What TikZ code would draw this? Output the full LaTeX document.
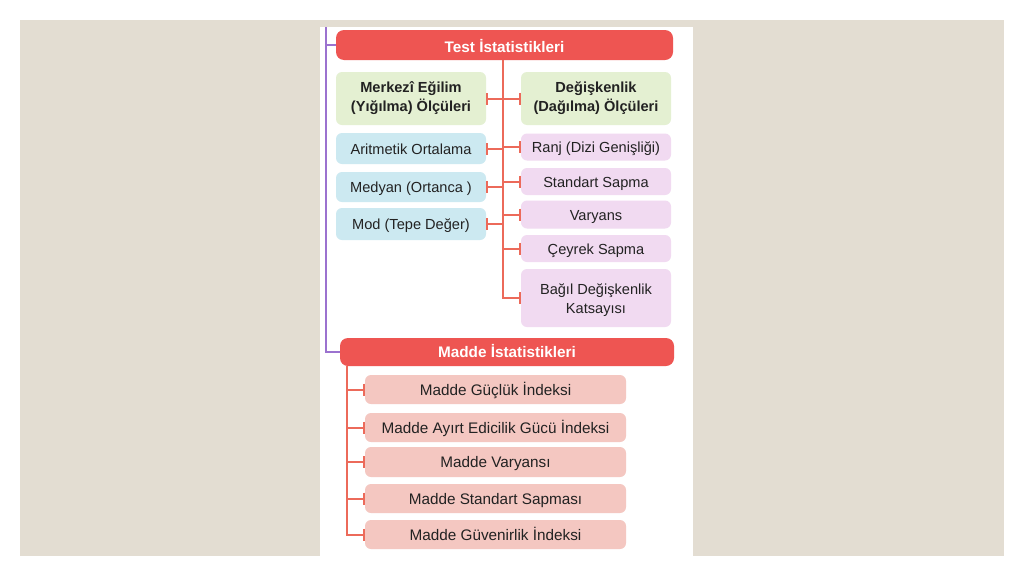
\documentclass[tikz,border=0pt]{standalone}
\usepackage{fontspec}
\setmainfont{Liberation Sans}
\usetikzlibrary{arrows.meta}
\definecolor{pagebg}{HTML}{E3DDD2}
\definecolor{hdrred}{HTML}{EE5552}
\definecolor{boxgreen}{HTML}{E4F0D2}
\definecolor{boxblue}{HTML}{CCE9F1}
\definecolor{boxlav}{HTML}{F1DAF1}
\definecolor{boxsalmon}{HTML}{F4C7C1}
\definecolor{linepurple}{HTML}{9B72CF}
\definecolor{lineorange}{HTML}{EC6A5A}
\definecolor{txt}{HTML}{222222}
\begin{document}
\begin{tikzpicture}[x=1pt,y=-1pt,
  box/.style={rounded corners=6pt, inner sep=0pt, align=center, text=txt,
    font=\fontsize{14.6}{19}\selectfont},
  one/.style={text height=11.5pt, text depth=0pt},
  mbox/.style={box, one, fill=boxsalmon, minimum width=261pt, font=\fontsize{15.3}{19}\selectfont},
  hdr/.style={box, one, fill=hdrred, rounded corners=8pt, text=white,
    font=\fontsize{15.3}{19}\selectfont\bfseries},
  conn/.style={draw=lineorange, line width=2pt},
  bar/.style={-{Bar[width=12pt,line width=2pt]}},
  bars/.style={{Bar[width=12pt,line width=2pt]}-{Bar[width=12pt,line width=2pt]}},
  pconn/.style={draw=linepurple, line width=2pt}
]
\useasboundingbox (0,0) rectangle (1024,576);
\fill[white] (0,0) rectangle (1024,576);
\fill[pagebg] (20,20) rectangle (1004,556);
\fill[white] (320,27) rectangle (693,556);

% headers
\node[hdr, minimum width=337pt, minimum height=30pt, text height=14pt] (test) at (504.5,45) {Test İstatistikleri};
\node[hdr, minimum width=334pt, minimum height=28pt] (madde) at (507,352) {Madde İstatistikleri};

% left column
\node[box, fill=boxgreen, minimum width=150pt, minimum height=53pt, font=\fontsize{14.6}{19}\selectfont\bfseries] (merk) at (411,98.5) {Merkezî Eğilim\\(Yığılma) Ölçüleri};
\node[box, one, fill=boxblue, minimum width=150pt, minimum height=31pt] (arit) at (411,148.5) {Aritmetik Ortalama};
\node[box, one, fill=boxblue, minimum width=150pt, minimum height=30pt] (medy) at (411,187) {Medyan (Ortanca )};
\node[box, one, fill=boxblue, minimum width=150pt, minimum height=32pt] (mod) at (411,224) {Mod (Tepe Değer)};

% right column
\node[box, fill=boxgreen, minimum width=150pt, minimum height=53pt, font=\fontsize{14.6}{19}\selectfont\bfseries] (degi) at (596,98.5) {Değişkenlik\\(Dağılma) Ölçüleri};
\node[box, one, fill=boxlav, minimum width=150pt, minimum height=27pt] (ranj) at (596,147) {Ranj (Dizi Genişliği)};
\node[box, one, fill=boxlav, minimum width=150pt, minimum height=27pt] (std) at (596,181.5) {Standart Sapma};
\node[box, one, fill=boxlav, minimum width=150pt, minimum height=28pt, text height=12.5pt] (var) at (596,214.5) {Varyans};
\node[box, one, fill=boxlav, minimum width=150pt, minimum height=27pt, text height=12.5pt] (ceyr) at (596,248.5) {Çeyrek Sapma};
\node[box, fill=boxlav, minimum width=150pt, minimum height=58pt] (bagil) at (596,298) {\rule{0pt}{16pt}Bağıl Değişkenlik\\Katsayısı};

% madde items
\node[mbox, minimum height=29pt] (m1) at (495.5,389.5) {Madde Güçlük İndeksi};
\node[mbox, minimum height=29pt] (m2) at (495.5,427.5) {Madde Ayırt Edicilik Gücü İndeksi};
\node[mbox, minimum height=30pt] (m3) at (495.5,462) {Madde Varyansı};
\node[mbox, minimum height=29pt] (m4) at (495.5,498.5) {Madde Standart Sapması};
\node[mbox, minimum height=29pt] (m5) at (495.5,534.5) {Madde Güvenirlik İndeksi};

% purple bracket
\coordinate (ptop) at (326,27);
\draw[pconn] (ptop) -- (ptop |- madde.west) -- (madde.west);
\draw[pconn] (ptop |- test.west) -- (test.west);

% test trunk
\coordinate (ttop) at (503,60);
\draw[conn, bar] (ttop) -- (ttop |- bagil.west) -- (bagil.west);
\draw[conn, bars] (merk.east) -- (degi.west);
\foreach \n in {arit,medy,mod}{
  \draw[conn, bar] (ttop |- \n.east) -- (\n.east);
}
\foreach \n in {ranj,std,var,ceyr}{
  \draw[conn, bar] (ttop |- \n.west) -- (\n.west);
}

% madde trunk
\coordinate (mtop) at (347,366);
\draw[conn, bar] (mtop) -- (mtop |- m5.west) -- (m5.west);
\foreach \n in {m1,m2,m3,m4}{
  \draw[conn, bar] (mtop |- \n.west) -- (\n.west);
}
\end{tikzpicture}
\end{document}
